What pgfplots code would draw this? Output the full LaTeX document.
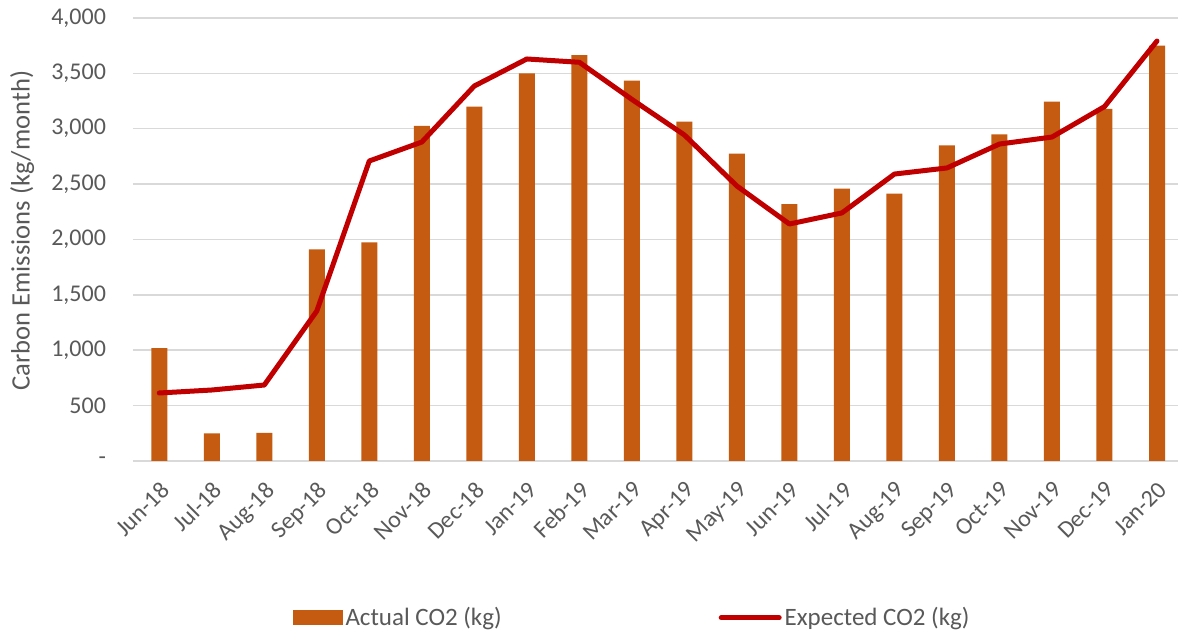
\documentclass[border=0pt]{standalone}
\usepackage{fontspec}
\setmainfont{Carlito}
\usepackage{pgfplots}
\pgfplotsset{compat=1.18}
\definecolor{barc}{HTML}{C55A11}
\definecolor{linec}{HTML}{C00000}
\definecolor{txt}{HTML}{595959}
\definecolor{gridc}{HTML}{D9D9D9}
\begin{document}
\begin{tikzpicture}[x=1pt,y=1pt]
\useasboundingbox (-66.5,-87) rectangle (522.5,230.5);
\begin{axis}[at={(0,0)}, anchor=south west, scale only axis,
  width=522.5pt, height=221.5pt,
  xmin=-0.5, xmax=19.4, ymin=0, ymax=4000,
  axis line style={draw=none}, tick style={draw=none},
  ymajorgrids, grid style={gridc, line width=0.75pt},
  xtick={0,...,19},
  xticklabels={Jun-18,Jul-18,Aug-18,Sep-18,Oct-18,Nov-18,Dec-18,Jan-19,Feb-19,Mar-19,Apr-19,May-19,Jun-19,Jul-19,Aug-19,Sep-19,Oct-19,Nov-19,Dec-19,Jan-20},
  ytick={0,500,...,4000},
  yticklabels={{-\hspace{5pt}},{500},{1,000},{1,500},{2,000},{2,500},{3,000},{3,500},{4,000}},
  font=\fontsize{12}{14.5}\selectfont,
  tick label style={text=txt, font=\fontsize{12}{14.5}\selectfont},
  xticklabel style={rotate=45, anchor=north east, inner sep=1pt},
  xticklabel shift=8pt,
  yticklabel style={anchor=east, xshift=-10pt},
  ylabel={Carbon Emissions (kg/month)},
  ylabel style={text=txt, font=\fontsize{13.3}{16}\selectfont, at={(axis description cs:-0.106,0.52)}, anchor=center},
  legend columns=2,
  legend style={at={(axis description cs:0.478,-0.354)}, anchor=center, draw=none,
    text=txt, font=\fontsize{12.5}{15}\selectfont,
    /tikz/every even column/.append style={column sep=107pt},
    nodes={inner sep=1.5pt}},
]
\addplot[ybar, bar width=8pt, fill=barc, draw=none,
  legend image code/.code={\fill[barc] (0pt,-3.75pt) rectangle (25pt,3.75pt);}]
  coordinates {(0,1020) (1,250) (2,255) (3,1910) (4,1975) (5,3025) (6,3200) (7,3500) (8,3665) (9,3435) (10,3065) (11,2775) (12,2320) (13,2460) (14,2415) (15,2850) (16,2950) (17,3245) (18,3180) (19,3750)};
\addlegendentry{Actual CO2 (kg)}
\addplot[linec, line width=2.5pt, line cap=round, line join=round, mark=none,
  legend image code/.code={\draw[linec, line width=2.5pt, line cap=round] (0pt,0pt) -- (29pt,0pt);}]
  coordinates {(0,614) (1,641) (2,686) (3,1354) (4,2709) (5,2880) (6,3386) (7,3630) (8,3600) (9,3265) (10,2944) (11,2483) (12,2140) (13,2240) (14,2591) (15,2646) (16,2862) (17,2925) (18,3200) (19,3792)};
\addlegendentry{Expected CO2 (kg)}
\end{axis}
\end{tikzpicture}
\end{document}
